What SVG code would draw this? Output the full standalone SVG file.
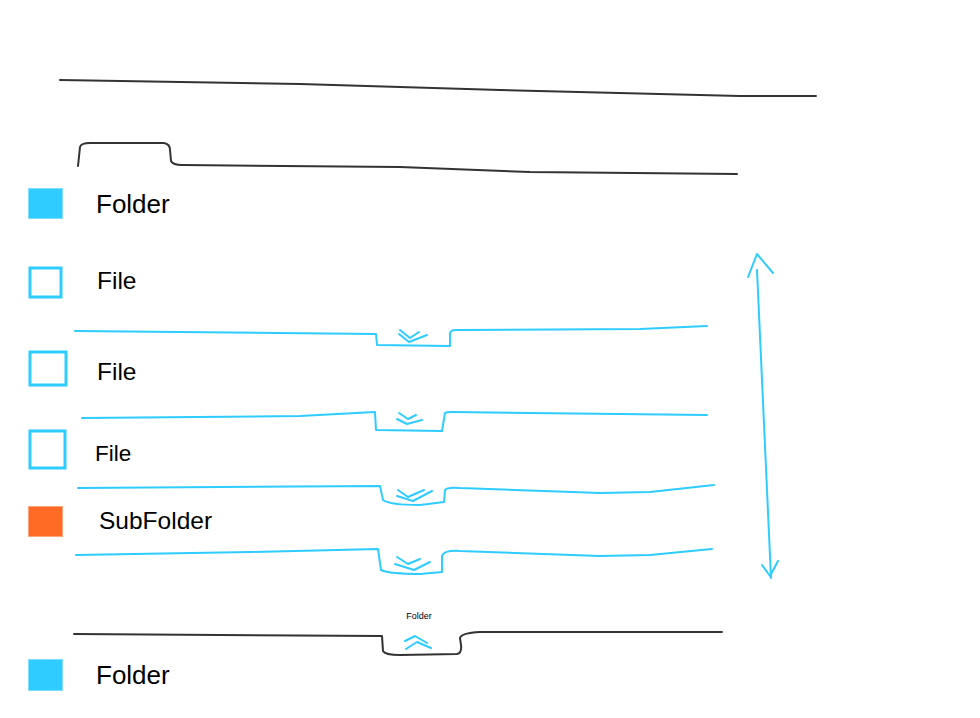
<svg xmlns="http://www.w3.org/2000/svg" width="980" height="718" viewBox="0 0 980 718">
<style>
.ink{fill:none;stroke:#333333;stroke-width:2;stroke-linecap:round;stroke-linejoin:round}
.blu{fill:none;stroke:#2ECCFF;stroke-width:2;stroke-linecap:round;stroke-linejoin:round}
.lbl{font-family:"Liberation Sans",Arial,sans-serif;fill:#000}
.fill{fill:#2ECCFF;stroke:#7FDDFF;stroke-width:1}
.file{fill:#fff;stroke:#2ECCFF;stroke-width:3}
.sub{fill:#FF6B24;stroke:#FFA27A;stroke-width:1}
</style>
<rect width="980" height="718" fill="#fff"/>
<g id="connectors">
<path class="ink" d="M60 80 L300 84 L500 90 L740 96 L816 96"/>
<path class="ink" d="M78 166 L80 147 Q81 143 90 143 L164 143 Q170 144 170 150 L171 161 Q173 165 182 165 L400 167 L530 172 L737 174"/>
<path class="blu" d="M75 331 L376 334 L377 345 L450 346 L450 333 Q451 330 456 330 L640 329 L707 326"/>
<path class="blu" d="M400 330 L410 338 L419 332 M399 334 L409 342 L427 335"/>
<path class="blu" d="M82 418 L300 416 L375 412 L376 430 L442 431 L445 413 Q446 412 452 412 L707 415"/>
<path class="blu" d="M399 413 L408 419 L416 415 M397 419 L407 424 L422 420"/>
<path class="blu" d="M78 488 L380 486 L383 500 Q390 505 420 505 L444 502 L445 490 Q447 487 460 488 L600 493 L650 492 L714 485"/>
<path class="blu" d="M398 490 L408 497 L424 490 M397 496 L413 501 L432 491"/>
<path class="blu" d="M76 555 L250 552 L378 549 L381 570 Q390 574 420 574 L442 572 L442 556 Q444 550 460 551 L600 556 L650 555 L712 549"/>
<path class="blu" d="M397 557 L408 564 L420 559 M395 564 L414 570 L430 562"/>
<path class="ink" d="M74 634 L382 636 L383 651 Q385 655 400 655 L457 654 Q462 653 461 645 L460 638 Q461 633 480 632 L722 632"/>
<path class="blu" d="M405 641 L415 636 L427 643 M406 649 L417 642 L431 648"/>
<path class="blu" d="M757 270 L771 578"/>
<path class="blu" d="M748 277 L757 254 L773 273"/>
<path class="blu" d="M762 565 L770 576 L778 561"/>
</g>
<g id="folder-top"><rect class="fill" x="28.5" y="188.5" width="34" height="30"/><text class="lbl" x="96" y="213" font-size="26">Folder</text></g>
<g id="file-1"><rect class="file" x="30" y="268" width="31" height="29"/><text class="lbl" x="97" y="289" font-size="24.5">File</text></g>
<g id="file-2"><rect class="file" x="30" y="352" width="36" height="33"/><text class="lbl" x="97" y="380" font-size="24.5">File</text></g>
<g id="file-3"><rect class="file" x="30" y="431" width="35" height="37"/><text class="lbl" x="95" y="461" font-size="22.5">File</text></g>
<g id="subfolder"><rect class="sub" x="28.5" y="506.5" width="34" height="30"/><text class="lbl" x="99" y="529" font-size="24.5">SubFolder</text></g>
<g id="folder-label-small"><text class="lbl" x="419" y="619" font-size="9" text-anchor="middle">Folder</text></g>
<g id="folder-bottom"><rect class="fill" x="28.5" y="659.5" width="34" height="31"/><text class="lbl" x="96" y="684" font-size="26">Folder</text></g>
</svg>
